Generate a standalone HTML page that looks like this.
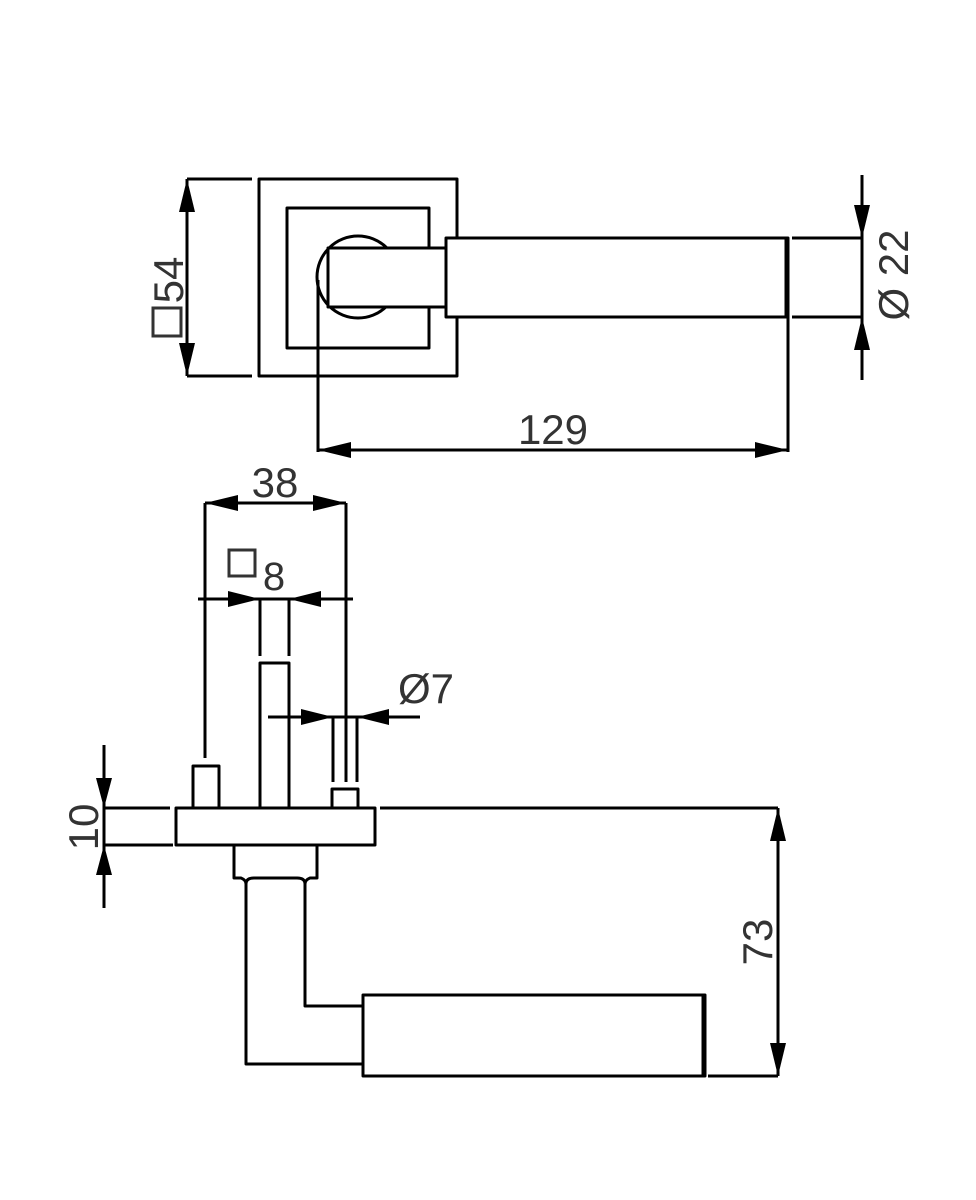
<!DOCTYPE html>
<html><head><meta charset="utf-8"><style>html,body{margin:0;padding:0;background:#fff}svg{display:block}</style></head>
<body>
<svg width="976" height="1200" viewBox="0 0 976 1200" xmlns="http://www.w3.org/2000/svg">
<g fill="none" stroke="#000" stroke-width="3" stroke-linejoin="round">
<rect x="259" y="179" width="198" height="197"/>
<rect x="287" y="208" width="142" height="140"/>
<circle cx="358" cy="277" r="41" fill="#fff"/>
<rect x="328" y="248" width="118" height="59" fill="#fff"/>
<rect x="446" y="238" width="342" height="79" fill="#fff"/>
<line x1="787" y1="238" x2="787" y2="317" stroke-width="5"/>
<line x1="318" y1="280" x2="318" y2="452"/>
<line x1="788" y1="317" x2="788" y2="452"/>
<line x1="318" y1="450" x2="788" y2="450"/>
<line x1="187" y1="179" x2="187" y2="376"/>
<line x1="187" y1="179" x2="252" y2="179"/>
<line x1="187" y1="376" x2="252" y2="376"/>
<line x1="792" y1="238" x2="862" y2="238"/>
<line x1="792" y1="317" x2="862" y2="317"/>
<line x1="862" y1="175" x2="862" y2="380"/>
<line x1="205" y1="503" x2="346" y2="503"/>
<line x1="205" y1="503" x2="205" y2="758"/>
<line x1="346" y1="503" x2="346" y2="782"/>
<line x1="198" y1="599" x2="353" y2="599"/>
<line x1="260" y1="599" x2="260" y2="656"/>
<line x1="289" y1="599" x2="289" y2="656"/>
<rect x="260" y="663" width="29" height="145"/>
<rect x="193" y="766" width="26" height="42"/>
<rect x="332" y="789" width="26" height="19"/>
<line x1="333" y1="717" x2="333" y2="782"/>
<line x1="357" y1="717" x2="357" y2="782"/>
<line x1="268" y1="717" x2="420" y2="717"/>
<rect x="176" y="808" width="199" height="37"/>
<line x1="105" y1="808" x2="170" y2="808"/>
<line x1="105" y1="845" x2="173" y2="845"/>
<line x1="104" y1="745" x2="104" y2="908"/>
<line x1="380" y1="808" x2="778" y2="808"/>
<line x1="778" y1="808" x2="778" y2="1076"/>
<line x1="708" y1="1076" x2="778" y2="1076"/>
<path d="M234 845 V878 H241 Q246 880 246 884 V1064 H363"/>
<path d="M317 845 V878 H310 Q305 880 305 884 V1006 H363"/>
<path d="M246 884 Q246 878 254 878 H297 Q305 878 305 884"/>
<rect x="363" y="995" width="342" height="81" fill="#fff"/>
<line x1="704" y1="995" x2="704" y2="1076" stroke-width="5"/>
</g>
<g fill="#000">
<polygon points="187,179 179,212 195,212"/>
<polygon points="187,376 179,343 195,343"/>
<polygon points="862,238 854,205 870,205"/>
<polygon points="862,317 854,350 870,350"/>
<polygon points="318,450 351,442 351,458"/>
<polygon points="788,450 755,442 755,458"/>
<polygon points="205,503 238,495 238,511"/>
<polygon points="346,503 313,495 313,511"/>
<polygon points="260,599 228,591 228,607"/>
<polygon points="289,599 321,591 321,607"/>
<polygon points="333,717 301,709 301,725"/>
<polygon points="357,717 389,709 389,725"/>
<polygon points="104,808 96,778 112,778"/>
<polygon points="104,845 96,875 112,875"/>
<polygon points="778,808 770,841 786,841"/>
<polygon points="778,1076 770,1043 786,1043"/>
</g>
<g font-family="Liberation Sans, sans-serif" fill="#333" font-size="42">
<text x="553" y="444" text-anchor="middle">129</text>
<text x="275" y="497" text-anchor="middle">38</text>
<text x="274" y="590" text-anchor="middle" font-size="40">8</text>
<text x="426" y="703" text-anchor="middle">Ø7</text>
<text transform="translate(183,280) rotate(-90)" text-anchor="middle">54</text>
<text transform="translate(908,275) rotate(-90)" text-anchor="middle">Ø 22</text>
<text transform="translate(98,827) rotate(-90)" text-anchor="middle">10</text>
<text transform="translate(772,942) rotate(-90)" text-anchor="middle">73</text>
</g>
<rect x="229" y="550" width="26" height="26" fill="none" stroke="#333" stroke-width="3"/>
<rect x="153" y="308" width="28" height="28" fill="none" stroke="#333" stroke-width="3"/>
</svg>
</body></html>
